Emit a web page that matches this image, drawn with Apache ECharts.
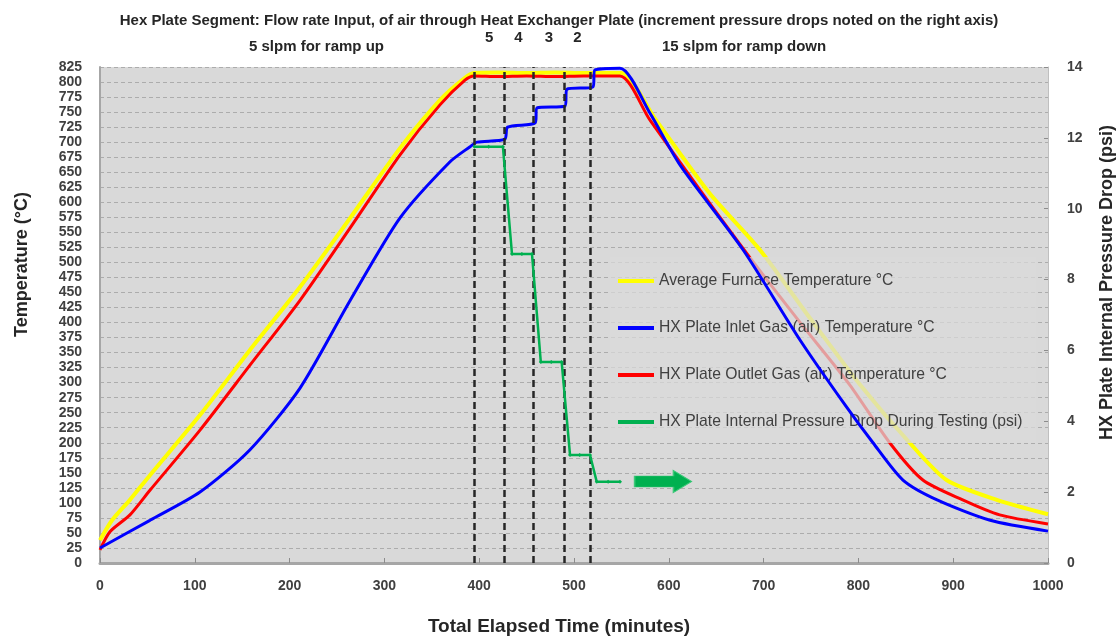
<!DOCTYPE html>
<html>
<head>
<meta charset="utf-8">
<script src="https://cdn.jsdelivr.net/npm/echarts@6/dist/echarts.min.js"></script>
<style>html,body{margin:0;padding:0;background:#fff;}#c{width:1118px;height:639px;}</style>
</head>
<body>
<div id="c"></div>
<script>
// ---- data (minutes, °C / psi) ----
const furnaceTime = [0, 12.7, 31.6, 52.7, 105.5, 158, 211, 264, 316.5, 358.6, 385, 394.5, 420, 450, 480, 510, 540, 550.6, 585, 643, 696, 749, 802, 854, 893, 946, 1000];
const furnaceTemp = [38, 71, 105, 146, 246, 354, 459, 574, 690, 770, 807, 815, 816, 815, 816, 815, 815, 815, 740, 615, 521, 407, 296, 200, 138, 105, 81];

const inletTime = [0, 52.7, 105.5, 158, 211, 264, 316.5, 369, 390, 397.7, 427, 430, 459, 461, 490.5, 492.6, 520, 522, 548.5, 580.2, 611.8, 678.3, 738.4, 785.9, 815.4, 847, 883, 939, 1000];
const inletTemp = [25, 71, 118, 188, 291, 437, 574, 667, 692, 700, 705, 725, 732, 757, 760, 788, 792, 820, 823, 748, 662, 521, 371, 263, 200, 138, 105, 71, 53];

const outletTime = [0, 10.5, 31.6, 52.7, 105.5, 158.2, 211, 263.7, 316.5, 358.6, 385, 394.5, 420, 450, 480, 510, 548.5, 580, 633, 686, 738, 791, 833, 868, 910, 949, 1000];
const outletTemp = [22, 52, 80, 121, 221, 329, 437, 557, 679, 762, 803, 810, 809, 810, 809, 810, 810, 737, 620, 507, 401, 296, 200, 138, 105, 80, 65];

const pressureTime = [395, 410, 425, 434.6, 445, 455.7, 465, 476, 487, 495.8, 506, 516.9, 524, 536, 548.5];
const pressureDrop = [11.75, 11.75, 11.75, 8.72, 8.72, 8.72, 5.67, 5.67, 5.67, 3.05, 3.05, 3.05, 2.29, 2.29, 2.29];

const stepLines = [395, 426, 457, 490, 517];
const stepLabels = ['5', '4', '3', '2'];
const arrowPoint = [594, 2.3];

const xTicks = {min: 0, max: 1000, interval: 100};
const tempTicks = {min: 0, max: 825, interval: 25};
const psiTicks = {min: 0, max: 14, interval: 2};

const seriesNames = [
  'Average Furnace Temperature °C',
  'HX Plate Inlet Gas (air) Temperature °C',
  'HX Plate Outlet Gas (air) Temperature °C',
  'HX Plate Internal Pressure Drop During Testing (psi)'
];
const titleLine = 'Hex Plate Segment: Flow rate Input, of air through Heat Exchanger Plate (increment pressure drops noted on the right axis)';
const rampUpText = '5 slpm for ramp up';
const rampDownText = '15 slpm for ramp down';

const pairs = (t, v) => t.map((x, i) => [x, v[i]]);
const FF = 'Liberation Sans, Arial, sans-serif';

const chart = echarts.init(document.getElementById('c'));
chart.setOption({
  animation: false,
  backgroundColor: '#ffffff',
  textStyle: {fontFamily: FF},
  title: [
    {text: titleLine, left: 'center', top: 8, textStyle: {fontSize: 15, fontWeight: 'bold', color: '#262626', fontFamily: FF}},
    {text: rampUpText, left: 244, top: 34, textStyle: {fontSize: 15, fontWeight: 'bold', color: '#262626', fontFamily: FF}},
    {text: rampDownText, left: 657, top: 34, textStyle: {fontSize: 15, fontWeight: 'bold', color: '#262626', fontFamily: FF}}
  ],
  grid: {left: 100, right: 70, top: 67, bottom: 76, show: true, backgroundColor: '#d9d9d9', borderWidth: 0},
  legend: {
    orient: 'vertical', left: 610, top: 257,
    padding: [16, 14, 13, 8], itemGap: 31, itemWidth: 36, itemHeight: 4,
    icon: 'rect',
    backgroundColor: 'rgba(217,217,217,0.72)',
    textStyle: {fontSize: 15.7, color: '#404040', fontFamily: FF},
    data: seriesNames
  },
  xAxis: {
    type: 'value', min: xTicks.min, max: xTicks.max, interval: xTicks.interval,
    axisLine: {show: true, lineStyle: {color: '#a6a6a6', width: 3}},
    axisTick: {show: true, inside: true, length: 5, lineStyle: {color: '#8c8c8c'}},
    splitLine: {show: false},
    axisLabel: {fontSize: 14, fontWeight: 'bold', color: '#404040', margin: 16, formatter: v => String(v)}
  },
  yAxis: [
    {
      type: 'value', min: tempTicks.min, max: tempTicks.max, interval: tempTicks.interval,
      axisLine: {show: true, lineStyle: {color: '#a6a6a6', width: 2}},
      axisTick: {show: false},
      splitLine: {show: true, lineStyle: {color: '#acacac', type: [4, 3], width: 1}},
      axisLabel: {fontSize: 14, fontWeight: 'bold', color: '#404040', margin: 18}
    },
    {
      type: 'value', position: 'right', min: psiTicks.min, max: psiTicks.max, interval: psiTicks.interval,
      axisLine: {show: true, lineStyle: {color: '#bfbfbf', width: 1}},
      axisTick: {show: true, inside: true, length: 4, lineStyle: {color: '#8c8c8c'}},
      splitLine: {show: false},
      axisLabel: {fontSize: 14, fontWeight: 'bold', color: '#404040', margin: 19}
    }
  ],
  graphic: [
    {type: 'text', left: 13, top: 192, rotation: Math.PI / 2,
      style: {text: 'Temperature (°C)', font: 'bold 18px ' + FF, fill: '#262626'}},
    {type: 'text', left: 1098, top: 125, rotation: Math.PI / 2,
      style: {text: 'HX Plate Internal Pressure Drop (psi)', font: 'bold 18px ' + FF, fill: '#262626'}},
    {type: 'text', left: 'center', top: 617,
      style: {text: 'Total Elapsed Time (minutes)', font: 'bold 19px ' + FF, fill: '#262626'}}
  ],
  series: [
    {
      name: seriesNames[0], type: 'line', yAxisIndex: 0, z: 2,
      data: pairs(furnaceTime, furnaceTemp), symbol: 'none', smooth: 0.25,
      lineStyle: {color: '#ffff00', width: 4}, itemStyle: {color: '#ffff00'}
    },
    {
      name: seriesNames[1], type: 'line', yAxisIndex: 0, z: 4,
      data: pairs(inletTime, inletTemp), symbol: 'none', smooth: 0.25,
      lineStyle: {color: '#0000ff', width: 3}, itemStyle: {color: '#0000ff'}
    },
    {
      name: seriesNames[2], type: 'line', yAxisIndex: 0, z: 3,
      data: pairs(outletTime, outletTemp), symbol: 'none', smooth: 0.25,
      lineStyle: {color: '#ff0000', width: 3}, itemStyle: {color: '#ff0000'},
      markLine: {
        silent: true, symbol: 'none', animation: false,
        lineStyle: {color: '#262626', type: [7, 4], width: 2.5},
        label: {show: false},
        data: stepLines.map(v => ({xAxis: v}))
      }
    },
    {
      name: seriesNames[3], type: 'line', yAxisIndex: 1, z: 5,
      data: pairs(pressureTime, pressureDrop), symbol: 'diamond', symbolSize: 4,
      lineStyle: {color: '#00b050', width: 2.5}, itemStyle: {color: '#00b050'},
      markArea: {
        silent: true,
        itemStyle: {color: 'rgba(0,0,0,0)'},
        label: {show: true, position: 'top', distance: 22, fontSize: 15, fontWeight: 'bold', color: '#262626'},
        data: stepLabels.map((s, i) => [{xAxis: stepLines[i], name: s}, {xAxis: stepLines[i + 1]}])
      },
      markPoint: {
        silent: true,
        symbol: 'path://M0,4 L30,4 L30,0 L44,8 L30,16 L30,12 L0,12 Z',
        symbolKeepAspect: false,
        symbolSize: [57, 22],
        label: {show: false},
        itemStyle: {color: '#00b050', borderColor: '#3cc878', borderWidth: 1},
        data: [{coord: arrowPoint}]
      }
    }
  ]
});
</script>
</body>
</html>
